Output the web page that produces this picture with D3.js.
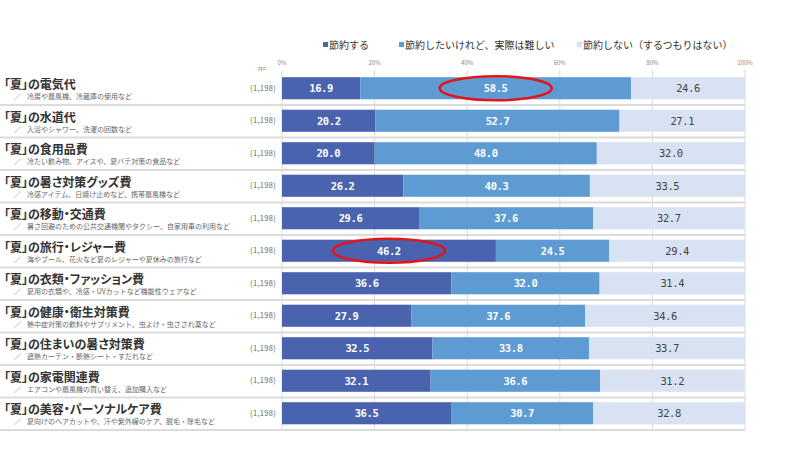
<!DOCTYPE html>
<html>
<head>
<meta charset="utf-8">
<script src="https://cdn.jsdelivr.net/npm/d3@7"></script>
<style>
  body { margin: 0; background: #fff; }
  svg { display: block; }
  .cat { font-feature-settings: "palt"; }
</style>
</head>
<body>
<svg id="chart" width="800" height="453"></svg>
<script>
// DATA
const categories = [
  "「夏」の電気代",
  "「夏」の水道代",
  "「夏」の食用品費",
  "「夏」の暑さ対策グッズ費",
  "「夏」の移動・交通費",
  "「夏」の旅行・レジャー費",
  "「夏」の衣類・ファッション費",
  "「夏」の健康・衛生対策費",
  "「夏」の住まいの暑さ対策費",
  "「夏」の家電関連費",
  "「夏」の美容・パーソナルケア費"
];
const details = [
  "冷房や扇風機、冷蔵庫の使用など",
  "入浴やシャワー、洗濯の回数など",
  "冷たい飲み物、アイスや、夏バテ対策の食品など",
  "冷感アイテム、日焼け止めなど、携帯扇風機など",
  "暑さ回避のための公共交通機関やタクシー、自家用車の利用など",
  "海やプール、花火など夏のレジャーや夏休みの旅行など",
  "夏用の衣類や、冷感・UVカットなど機能性ウェアなど",
  "熱中症対策の飲料やサプリメント、虫よけ・虫さされ薬など",
  "遮熱カーテン・断熱シート・すだれなど",
  "エアコンや扇風機の買い替え、追加購入など",
  "夏向けのヘアカットや、汗や紫外線のケア、脱毛・除毛など"
];
const sampleSizes = ["(1,198)", "(1,198)", "(1,198)", "(1,198)", "(1,198)", "(1,198)",
                     "(1,198)", "(1,198)", "(1,198)", "(1,198)", "(1,198)"];
const seriesNames = ["節約する", "節約したいけれど、実際は難しい", "節約しない（するつもりはない）"];
const saveValues   = [16.9, 20.2, 20.0, 26.2, 29.6, 46.2, 36.6, 27.9, 32.5, 32.1, 36.5];
const hardValues   = [58.5, 52.7, 48.0, 40.3, 37.6, 24.5, 32.0, 37.6, 33.8, 36.6, 30.7];
const noSaveValues = [24.6, 27.1, 32.0, 33.5, 32.7, 29.4, 31.4, 34.6, 33.7, 31.2, 32.8];
const tickValues = [0, 20, 40, 60, 80, 100];
// cells that the original circles in red (row, series)
const highlights = [[0, 1], [5, 0]];

const colors = ["#4963ae", "#5e9bd3", "#d9e2f3"];
const textColors = ["#fff", "#fff", "#444"];

const svg = d3.select("#chart");
const FONT = "'Noto Sans CJK JP', 'Noto Sans', sans-serif";

const x = d3.scaleLinear().domain([0, 100]).range([282, 745]);
const y = d3.scaleBand()
  .domain(d3.range(categories.length))
  .range([72, 429.5])
  .paddingInner(0.32)
  .paddingOuter(0.16);

// stack the three series per row
const rows = categories.map(function(c, i) {
  return { i: i, s0: saveValues[i], s1: hardValues[i], s2: noSaveValues[i] };
});
const stack = d3.stack().keys(["s0", "s1", "s2"]);
const layers = stack(rows);

// vertical grid
svg.append("g").selectAll("line")
  .data(tickValues)
  .enter().append("line")
  .attr("x1", d => x(d)).attr("x2", d => x(d))
  .attr("y1", 70).attr("y2", 430)
  .attr("stroke", "#d9d9d9")
  .attr("stroke-width", 1);

// row separators
const step = y.step();
svg.append("g").selectAll("line")
  .data(d3.range(categories.length))
  .enter().append("line")
  .attr("x1", 0).attr("x2", 745)
  .attr("y1", d => y(d) + y.bandwidth() / 2 + step / 2 + 0.5)
  .attr("y2", d => y(d) + y.bandwidth() / 2 + step / 2 + 0.5)
  .attr("stroke", "#dcdcdc")
  .attr("stroke-width", 2);

// tick labels
svg.append("g").selectAll("text")
  .data(tickValues)
  .enter().append("text")
  .attr("x", d => x(d)).attr("y", 65)
  .attr("text-anchor", "middle")
  .attr("font-family", FONT).attr("font-size", 6)
  .attr("fill", "#888")
  .text(d => d + "%");

svg.append("text")
  .attr("x", 262).attr("y", 71)
  .attr("text-anchor", "middle")
  .attr("font-family", FONT).attr("font-size", 7)
  .attr("fill", "#777")
  .text("n=");

// bars
const layerG = svg.append("g").selectAll("g")
  .data(layers)
  .enter().append("g")
  .attr("fill", (d, k) => colors[k]);

layerG.selectAll("rect")
  .data(d => d)
  .enter().append("rect")
  .attr("x", d => x(d[0]))
  .attr("y", d => y(d.data.i))
  .attr("width", d => x(Math.min(d[1], 100)) - x(d[0]))
  .attr("height", y.bandwidth());

layerG.selectAll("text")
  .data((d, k) => d.map(v => ({ v: v, k: k })))
  .enter().append("text")
  .attr("x", d => (x(d.v[0]) + x(Math.min(d.v[1], 100))) / 2)
  .attr("y", d => y(d.v.data.i) + y.bandwidth() / 2)
  .attr("dy", "0.36em")
  .attr("text-anchor", "middle")
  .attr("font-family", "'DejaVu Sans Mono', monospace")
  .attr("font-size", 10.5)
  .attr("font-weight", d => d.k < 2 ? "bold" : "normal")
  .attr("letter-spacing", "-0.4px")
  .attr("fill", d => textColors[d.k])
  .text(d => (d.v[1] - d.v[0]).toFixed(1));

// category labels
const labelG = svg.append("g").selectAll("g")
  .data(categories)
  .enter().append("g")
  .attr("transform", (d, i) => "translate(0," + (y(i) + y.bandwidth() / 2) + ")");

labelG.append("text")
  .attr("class", "cat")
  .attr("x", 4).attr("y", 1)
  .attr("font-family", FONT).attr("font-size", 12)
  .attr("font-weight", "bold")
  .attr("fill", "#333")
  .text(d => d);

labelG.append("text")
  .attr("x", 14).attr("y", 11)
  .attr("font-family", FONT).attr("font-size", 7)
  .attr("fill", "#777")
  .text("／");

labelG.append("text")
  .attr("x", 27).attr("y", 11)
  .attr("font-family", FONT).attr("font-size", 7)
  .attr("fill", "#666")
  .text((d, i) => details[i]);

labelG.append("text")
  .attr("x", 276).attr("y", 0)
  .attr("dy", "0.35em")
  .attr("text-anchor", "end")
  .attr("font-family", FONT).attr("font-size", 7.5)
  .attr("letter-spacing", "0.3px")
  .attr("fill", "#666")
  .text((d, i) => sampleSizes[i]);

// legend
const legendX = [323, 399, 577];
const legend = svg.append("g").selectAll("g")
  .data(seriesNames)
  .enter().append("g")
  .attr("transform", (d, k) => "translate(" + legendX[k] + ",45)");
legend.append("rect")
  .attr("x", 0).attr("y", -3).attr("width", 5).attr("height", 5)
  .attr("fill", (d, k) => colors[k]);
legend.append("text")
  .attr("x", 6).attr("y", 0)
  .attr("dy", "0.35em")
  .attr("font-family", FONT).attr("font-size", 10)
  .attr("fill", "#333")
  .text(d => d);

// red ellipses
svg.append("g").selectAll("ellipse")
  .data(highlights)
  .enter().append("ellipse")
  .attr("cx", d => (x(layers[d[1]][d[0]][0]) + x(layers[d[1]][d[0]][1])) / 2)
  .attr("cy", d => y(d[0]) + y.bandwidth() / 2)
  .attr("rx", 56).attr("ry", 12)
  .attr("fill", "none")
  .attr("stroke", "#e3141b")
  .attr("stroke-width", 2.5);
</script>
</body>
</html>
